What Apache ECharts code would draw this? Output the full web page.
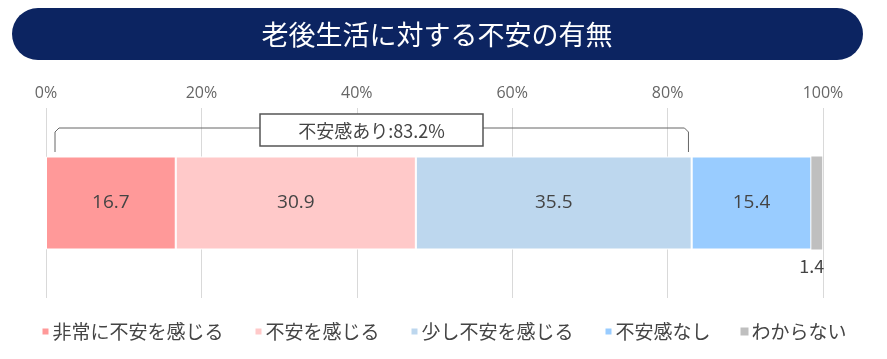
<!DOCTYPE html>
<html><head><meta charset="utf-8">
<script src="https://cdn.jsdelivr.net/npm/echarts@6/dist/echarts.min.js"></script>
<style>html,body{margin:0;padding:0;background:#fff}#c{width:887px;height:359px}</style>
</head><body><div id="c"></div>
<script>
const titleText = '老後生活に対する不安の有無';
const categories = ['全体'];
const seriesNames = ['非常に不安を感じる', '不安を感じる', '少し不安を感じる', '不安感なし', 'わからない'];
const seriesValues = [[16.7], [30.9], [35.5], [15.4], [1.4]];
const colors = ['#FF9999', '#FFC9C9', '#BDD7EE', '#99CCFF', '#BFBFBF'];
const tickLabels = ['0%', '20%', '40%', '60%', '80%', '100%'];
const bracketLabel = '不安感あり:83.2%';
const bracketValue = 83.2;

const font = '"Noto Sans CJK JP", "Noto Sans", sans-serif';
const numFont = '"Open Sans", "Noto Sans", sans-serif';
const chart = echarts.init(document.getElementById('c'));

const series = seriesNames.map((n, i) => ({
  name: n, type: 'bar', stack: 'a', barWidth: 93,
  data: seriesValues[i],
  itemStyle: { color: colors[i], borderColor: '#fff', borderWidth: i < 4 ? 1 : 0 },
  label: i < 4 ? {
    show: true, position: 'inside', color: '#444', fontSize: 19, fontFamily: numFont,
    formatter: p => p.value.toFixed(1)
  } : {
    show: true, position: 'bottom', distance: 8, offset: [-5, 0], color: '#444', fontSize: 18, fontFamily: font,
    formatter: p => p.value.toFixed(1)
  },
  emphasis: { disabled: true }
}));

chart.setOption({
  animation: false,
  grid: { left: 46, right: 64, top: 108, bottom: 61 },
  xAxis: {
    type: 'value', position: 'top', min: 0, max: 100, interval: 20,
    axisLine: { show: false }, axisTick: { show: false },
    splitLine: { lineStyle: { color: '#d9d9d9', width: 1 } },
    axisLabel: { color: '#666', fontSize: 16, fontFamily: numFont, margin: 7,
      formatter: v => tickLabels[Math.round(v / 20)] }
  },
  yAxis: { type: 'category', data: categories, show: false, inverse: true },
  legend: {
    bottom: 13, left: 'center', itemWidth: 8, itemHeight: 8, itemGap: 30,
    icon: 'rect',
    textStyle: { color: '#444', fontSize: 19, fontFamily: font, padding: [0, 0, 0, -2] },
    data: seriesNames
  },
  series: series
});

function drawGraphics() {
  const x0 = chart.convertToPixel({ xAxisIndex: 0 }, 0) + 9;
  const x1 = chart.convertToPixel({ xAxisIndex: 0 }, bracketValue) - 4;
  const yTop = 128, yBot = 152;
  const boxL = 260, boxR = 483, boxT = 114, boxB = 146;
  chart.setOption({
    graphic: [
      { type: 'rect', shape: { x: 12, y: 8, width: 851, height: 52, r: 26 }, style: { fill: '#0C2461' }, silent: true },
      { type: 'text', x: 437, y: 35, style: { text: titleText, fill: '#fff', fontSize: 27, fontFamily: font, align: 'center', verticalAlign: 'middle' }, silent: true },
      { type: 'polyline', shape: { points: [[x0, yBot], [x0, yTop + 4], [x0 + 4, yTop], [boxL, yTop]] }, style: { stroke: '#666', lineWidth: 1, fill: null }, silent: true },
      { type: 'polyline', shape: { points: [[boxR, yTop], [x1 - 4, yTop], [x1, yTop + 4], [x1, yBot]] }, style: { stroke: '#666', lineWidth: 1, fill: null }, silent: true },
      { type: 'rect', shape: { x: boxL, y: boxT, width: boxR - boxL, height: boxB - boxT }, style: { fill: '#fff', stroke: '#555', lineWidth: 1.5 }, silent: true },
      { type: 'text', x: (boxL + boxR) / 2, y: (boxT + boxB) / 2 + 1, style: { text: bracketLabel, fill: '#444', fontSize: 18, fontFamily: font, align: 'center', verticalAlign: 'middle' }, silent: true }
    ]
  });
}
drawGraphics();
</script></body></html>
